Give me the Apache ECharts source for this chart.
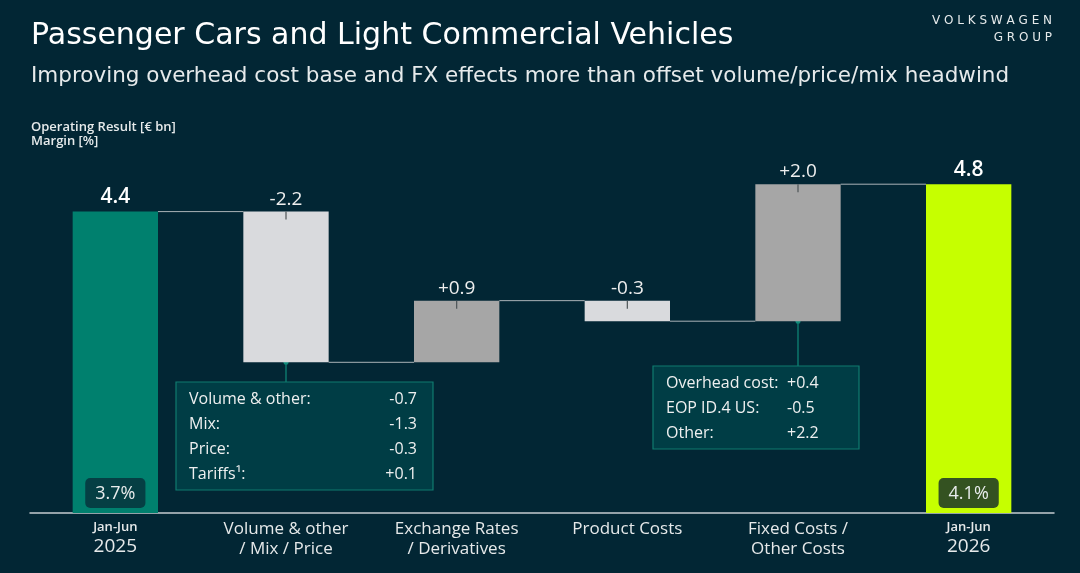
<!DOCTYPE html>
<html>
<head>
<meta charset="utf-8">
<script src="https://cdn.jsdelivr.net/npm/echarts@6/dist/echarts.min.js"></script>
<style>
  html, body { margin: 0; padding: 0; background: #022634; }
  #main { width: 1080px; height: 573px; }
</style>
</head>
<body>
<div id="main"></div>
<script>
// data
const categories = ['Jan-Jun\n2025', 'Volume & other\n/ Mix / Price', 'Exchange Rates\n/ Derivatives', 'Product Costs', 'Fixed Costs /\nOther Costs', 'Jan-Jun\n2026'];
const startValue = 4.4;
const deltas = [-2.2, 0.9, -0.3, 2.0];
const endValue = 4.8;
const margins = ['3.7%', '4.1%'];
const volumeDetail = [['Volume & other:', '-0.7'], ['Mix:', '-1.3'], ['Price:', '-0.3'], ['Tariffs¹:', '+0.1']];
const fixedDetail = [['Overhead cost:', '+0.4'], ['EOP ID.4 US:', '-0.5'], ['Other:', '+2.2']];

const BG = '#022634';
const FONT = 'Open Sans';
const barColors = ['#00806e', '#d9dadd', '#a6a6a6', '#d9dadd', '#a6a6a6', '#c6ff00'];

// build waterfall from the values
let base = [0], height = [startValue], levels = [startValue];
let run = startValue;
deltas.forEach(d => {
    let next = run + d;
    base.push(Math.min(run, next));
    height.push(Math.abs(d));
    run = next;
    levels.push(run);
});
base.push(0);
height.push(endValue);

const labelText = [startValue.toFixed(1)]
    .concat(deltas.map(d => (d > 0 ? '+' : '') + d.toFixed(1)))
    .concat([endValue.toFixed(1)]);

const chart = echarts.init(document.getElementById('main'));

let option = {
    backgroundColor: BG,
    textStyle: { fontFamily: FONT },
    grid: { left: 30, right: 26, top: 102, bottom: 60 },
    xAxis: {
        type: 'category',
        data: categories,
        axisLine: { lineStyle: { color: '#c5ccd0', width: 1.5 } },
        axisTick: { show: false },
        axisLabel: {
            margin: 6,
            interval: 0,
            formatter: function (v) {
                if (v.indexOf('Jan-Jun') === 0) {
                    let p = v.split('\n');
                    return '{s|' + p[0] + '}\n{y|' + p[1] + '}';
                }
                return '{c|' + v.split('\n').join('}\n{c|') + '}';
            },
            rich: {
                s: { fontSize: 13, fontWeight: 600, color: '#e6e9ea', lineHeight: 17, fontFamily: FONT },
                y: { fontSize: 19, color: '#e6e9ea', lineHeight: 22, fontFamily: FONT },
                c: { fontSize: 17, color: '#e6e9ea', lineHeight: 20, fontFamily: FONT }
            }
        }
    },
    yAxis: { type: 'value', min: 0, max: 6, show: false, splitLine: { show: false } },
    series: [
        {
            type: 'bar',
            stack: 'wf',
            silent: true,
            itemStyle: { color: 'transparent' },
            data: base
        },
        {
            type: 'bar',
            stack: 'wf',
            barWidth: '50%',
            data: height.map((h, i) => ({
                value: h,
                itemStyle: { color: barColors[i] },
                label: (i === 0 || i === height.length - 1)
                    ? { fontSize: 21, fontWeight: 600, color: '#ffffff', distance: 4 }
                    : { fontSize: 19, color: '#eeeeee', distance: 3 }
            })),
            label: {
                show: true,
                position: 'top',
                fontFamily: FONT,
                formatter: p => labelText[p.dataIndex]
            }
        },
        {
            // connector lines between bars
            type: 'custom',
            silent: true,
            z: 1,
            renderItem: function (params, api) {
                let i = api.value(0), lv = api.value(1);
                let a = api.coord([i, lv]);
                let b = api.coord([i + 1, lv]);
                let w = api.size([1, 0])[0] * 0.25;
                return {
                    type: 'line',
                    shape: { x1: a[0] + w, y1: a[1], x2: b[0] - w, y2: b[1] },
                    style: { stroke: '#aab3b7', lineWidth: 1 }
                };
            },
            data: levels.map((lv, i) => [i, lv])
        },
        {
            // small tick marks on the delta bars
            type: 'custom',
            silent: true,
            z: 5,
            renderItem: function (params, api) {
                let p = api.coord([api.value(0), api.value(1)]);
                return {
                    type: 'line',
                    shape: { x1: p[0], y1: p[1], x2: p[0], y2: p[1] + 8 },
                    style: { stroke: '#4d5457', lineWidth: 1.2 }
                };
            },
            data: deltas.map((d, i) => [i + 1, base[i + 1] + height[i + 1]])
        },
        {
            // margin boxes
            type: 'scatter',
            symbolSize: 0,
            silent: true,
            z: 6,
            itemStyle: { opacity: 1 },
            data: [[0, 0], [5, 0]].map((c, k) => ({
                value: c,
                label: {
                    backgroundColor: k === 0 ? '#053f44' : '#345221'
                }
            })),
            label: {
                show: true,
                opacity: 1,
                position: 'top',
                distance: 5,
                formatter: p => margins[p.dataIndex],
                color: '#e8ecec',
                fontSize: 18,
                fontFamily: FONT,
                padding: [7, 10, 5, 10],
                borderRadius: 5
            }
        }
    ]
};
chart.setOption(option);

// annotation boxes anchored to bar bottoms
function detailBox(x, y, w, rows, valueX, alignRight) {
    let els = [{
        type: 'rect',
        shape: { x: x, y: y, width: w, height: rows.length * 25 + 8 },
        style: { fill: '#003d45', stroke: '#0f7b6f', lineWidth: 1.2 }
    }];
    rows.forEach((r, k) => {
        els.push({
            type: 'text',
            style: { x: x + 13, y: y + 17 + k * 25, text: r[0], fill: '#eef0f0', font: '16px ' + FONT, textVerticalAlign: 'middle' }
        });
        els.push({
            type: 'text',
            style: { x: valueX, y: y + 17 + k * 25, text: r[1], fill: '#eef0f0', font: '16px ' + FONT, textAlign: alignRight ? 'right' : 'left', textVerticalAlign: 'middle' }
        });
    });
    return els;
}

let p1 = chart.convertToPixel({ seriesIndex: 1 }, [1, base[1]]);
let p2 = chart.convertToPixel({ seriesIndex: 1 }, [4, base[4]]);
let graphics = [];
graphics.push({ type: 'line', shape: { x1: p1[0], y1: p1[1], x2: p1[0], y2: 382 }, style: { stroke: '#0f8a7a', lineWidth: 1.2 } });
graphics.push({ type: 'circle', shape: { cx: p1[0], cy: p1[1], r: 2.5 }, style: { fill: '#0f8a7a' } });
graphics.push({ type: 'line', shape: { x1: p2[0], y1: p2[1], x2: p2[0], y2: 366 }, style: { stroke: '#0f8a7a', lineWidth: 1.2 } });
graphics.push({ type: 'circle', shape: { cx: p2[0], cy: p2[1], r: 2.5 }, style: { fill: '#0f8a7a' } });
graphics = graphics.concat(detailBox(176, 382, 257, volumeDetail, 417, true));
graphics = graphics.concat(detailBox(653, 366, 206, fixedDetail, 787, false));

// titles
graphics.push({ type: 'text', style: { x: 31, y: 36, text: 'Passenger Cars and Light Commercial Vehicles', fill: '#ffffff', font: '30px DejaVu Sans', textVerticalAlign: 'middle' } });
graphics.push({ type: 'text', style: { x: 31, y: 76, text: 'Improving overhead cost base and FX effects more than offset volume/price/mix headwind', fill: '#e6eaeb', font: '21.5px DejaVu Sans', textVerticalAlign: 'middle' } });
graphics.push({ type: 'text', style: { x: 31, y: 127, text: 'Operating Result [€ bn]', fill: '#e6eaeb', font: '600 13px ' + FONT, textVerticalAlign: 'middle' } });
graphics.push({ type: 'text', style: { x: 31, y: 141, text: 'Margin [%]', fill: '#e6eaeb', font: '600 13px ' + FONT, textVerticalAlign: 'middle' } });
graphics.push({ type: 'text', style: { x: 1052, y: 21, text: 'V O L K S W A G E N', fill: '#e6eaeb', font: '12px DejaVu Sans', textAlign: 'right', textVerticalAlign: 'middle' } });
graphics.push({ type: 'text', style: { x: 1052, y: 38, text: 'G R O U P', fill: '#e6eaeb', font: '12px DejaVu Sans', textAlign: 'right', textVerticalAlign: 'middle' } });

chart.setOption({ graphic: graphics });
</script>
</body>
</html>
